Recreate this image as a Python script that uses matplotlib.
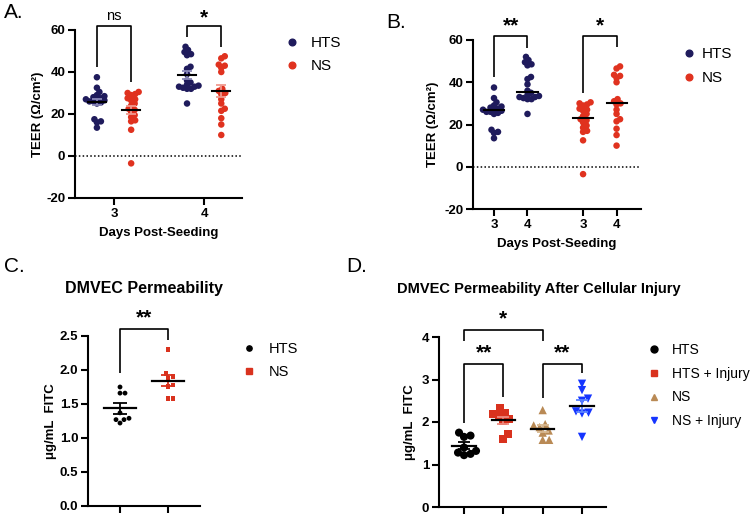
import numpy as np
import matplotlib
matplotlib.use("Agg")
import matplotlib.pyplot as plt
from matplotlib.lines import Line2D

plt.rcParams['font.family'] = ['Liberation Sans', 'DejaVu Sans']

# ---------------- data ----------------
hts_d3 = [37.5, 32.5, 30.5, 29, 28.5, 28, 27.5, 27, 27, 26.5, 26, 26, 25.5, 25, 17.5, 16.5, 16, 13.5]
ns_d3 = [30.5, 30, 29.5, 29, 27.5, 27, 26.5, 25, 24, 22.5, 22, 21, 19.5, 18.5, 17, 16.5, 12.5, -3.5]
hts_d4 = [52, 50.5, 49.5, 48.5, 48, 42.5, 41.5, 39, 36, 35, 34, 33.5, 33, 33, 32.5, 32, 32, 25]
ns_d4 = [47.5, 46.5, 43.5, 43, 42, 40, 32, 31, 30, 29.5, 27, 25, 22.5, 21.5, 18, 15, 10]
days = [3, 4]

c_groups = ["HTS", "NS"]
c_hts = [1.75, 1.66, 1.66, 1.37, 1.29, 1.27, 1.27, 1.22]
c_ns = [2.30, 1.95, 1.90, 1.88, 1.78, 1.76, 1.58, 1.58]

d_groups = ["HTS", "HTS + Injury", "NS", "NS + Injury"]
d_hts = [1.75, 1.68, 1.65, 1.40, 1.32, 1.28, 1.25, 1.22]
d_hts_inj = [2.33, 2.22, 2.18, 2.15, 2.08, 2.03, 1.72, 1.61]
d_ns = [2.28, 1.95, 1.92, 1.88, 1.80, 1.75, 1.58, 1.58]
d_ns_inj = [2.90, 2.75, 2.55, 2.50, 2.25, 2.22, 2.20, 1.65]

NAVY = '#1f1b5c'
RED = '#e0321f'
NAVY_L = '#8a88b8'
RED_L = '#f09a8f'
D_RED = '#d9321e'
TAN = '#b98a55'
BLUE = '#1535ff'
BLUE_L = '#5b83ff'
RED_L2 = '#ee8a80'
TAN_L = '#d8b890'

W, H = 752, 515
fig = plt.figure(figsize=(W / 100, H / 100), dpi=100)


def px_axes(l, t, r, b):
    return fig.add_axes([l / W, 1 - b / H, (r - l) / W, (b - t) / H])


def ftext(x, y, s, **kw):
    fig.text(x / W, 1 - y / H, s, **kw)


def style(ax):
    for s in ['top', 'right']:
        ax.spines[s].set_visible(False)
    for s in ['left', 'bottom']:
        ax.spines[s].set_linewidth(1.5)
    ax.tick_params(width=1.5, length=5, labelsize=9.5, pad=2)


def swarm(ax, xc, ys, d):
    ys = np.asarray(ys, float)
    pts = ax.transData.transform(np.column_stack([np.full(len(ys), xc), ys]))
    x0 = pts[0, 0]
    order = np.argsort(pts[:, 1])
    placed = []
    xs = np.zeros(len(ys))
    for i in order:
        y = pts[i, 1]
        best = None
        k = 0
        while best is None:
            for sgn in ([1] if k == 0 else [1, -1]):
                off = sgn * k * 0.5
                if all((x0 + off - px) ** 2 + (y - py) ** 2 >= d * d for px, py in placed):
                    best = off
                    break
            k += 1
        placed.append((x0 + best, y))
        xs[i] = x0 + best
    back = ax.transData.inverted().transform(np.column_stack([xs, pts[:, 1]]))
    return back[:, 0]


def sem(v):
    v = np.asarray(v, float)
    return v.std(ddof=1) / np.sqrt(len(v))


def bracket(ax, x1, x2, ytop, yl, yr, text, ty, fs=15, weight='bold'):
    ax.plot([x1, x1, x2, x2], [yl, ytop, ytop, yr], color='black', lw=1.2,
            clip_on=False, solid_capstyle='butt')
    ax.text((x1 + x2) / 2, ty, text, ha='center', va='center', fontsize=fs,
            fontweight=weight, clip_on=False)


def legend(handles, labels, x, y, spacing=0.5, pad=0.9, fs=10):
    fig.legend(handles, labels, loc='upper left', bbox_to_anchor=(x / W, 1 - y / H),
               frameon=False, fontsize=fs, handlelength=1.0, handletextpad=pad,
               labelspacing=spacing, borderpad=0, borderaxespad=0)


# ---------------- Panel A ----------------
axA = px_axes(75, 30, 242, 198)
style(axA)
axA.set_xlim(2.567, 4.42)
axA.set_ylim(-20, 60)
axA.set_yticks([-20, 0, 20, 40, 60], ['-20', '0', '20', '40', '60'], fontweight='bold')
axA.set_xticks(days, [str(d) for d in days], fontweight='bold')
axA.axhline(0, ls=(0, (1, 1.5)), color='black', lw=1.1, zorder=1)
off = 0.19
seriesA = [(days[0] - off, hts_d3, NAVY, NAVY_L), (days[0] + off, ns_d3, RED, RED_L),
           (days[1] - off, hts_d4, NAVY, NAVY_L), (days[1] + off, ns_d4, RED, RED_L)]
for xc, ys, col, lcol in seriesA:
    xs = swarm(axA, xc, ys, 4.0)
    axA.scatter(xs, ys, s=22, color=col, edgecolors='none', zorder=2)
    m = np.mean(ys)
    axA.errorbar([xc], [m], yerr=[sem(ys)], fmt='none', ecolor=lcol, elinewidth=1.3,
                 capsize=3.6, capthick=1.3, zorder=3)
    axA.plot([xc - 0.1, xc + 0.1], [m, m], color='black', lw=1.5, zorder=4)
bracket(axA, days[0] - off, days[0] + off, 61.9, 42.4, 35.2, 'ns', 66.5, fs=10.5, weight='normal')
bracket(axA, days[1] - off, days[1] + off, 61.9, 56.7, 52.0, '*', 66.0)
axA.set_ylabel('TEER (Ω/cm²)', fontsize=9.5, fontweight='bold')
axA.yaxis.set_label_coords(-0.185, 0.5)
axA.set_xlabel('Days Post-Seeding', fontsize=9.5, fontweight='bold', labelpad=5)
legend([Line2D([], [], ls='none', marker='o', ms=4.8, color=NAVY),
        Line2D([], [], ls='none', marker='o', ms=4.8, color=RED)], ['HTS', 'NS'], 284, 36,
       spacing=0.6, pad=0.75, fs=11)

# ---------------- Panel B ----------------
axB = px_axes(473, 40, 641, 209)
style(axB)
posB = [0, 1, 2.66, 3.66]
axB.set_xlim(-0.627, 4.39)
axB.set_ylim(-20, 60)
axB.set_yticks([-20, 0, 20, 40, 60], ['-20', '0', '20', '40', '60'], fontweight='bold')
axB.set_xticks(posB, [str(days[0]), str(days[1]), str(days[0]), str(days[1])], fontweight='bold')
axB.axhline(0, ls=(0, (1, 1.5)), color='black', lw=1.1, zorder=1)
seriesB = [(posB[0], hts_d3, NAVY), (posB[1], hts_d4, NAVY),
           (posB[2], ns_d3, RED), (posB[3], ns_d4, RED)]
for xc, ys, col in seriesB:
    xs = swarm(axB, xc, ys, 4.0)
    axB.scatter(xs, ys, s=22, color=col, edgecolors='none', zorder=2)
    md = np.median(ys)
    axB.plot([xc - 0.3, xc + 0.3], [md, md], color='black', lw=1.5, zorder=4)
bracket(axB, posB[0], posB[1], 61.9, 42.5, 56.0, '**', 66.5)
bracket(axB, posB[2], posB[3], 61.9, 35.0, 56.7, '*', 66.5)
axB.set_ylabel('TEER (Ω/cm²)', fontsize=9.5, fontweight='bold')
axB.yaxis.set_label_coords(-0.2, 0.5)
axB.set_xlabel('Days Post-Seeding', fontsize=9.5, fontweight='bold', labelpad=5)
legend([Line2D([], [], ls='none', marker='o', ms=4.8, color=NAVY),
        Line2D([], [], ls='none', marker='o', ms=4.8, color=RED)], ['HTS', 'NS'], 681, 47,
       spacing=0.65, pad=0.35, fs=11)

# ---------------- Panel C ----------------
axC = px_axes(88, 336, 200, 506)
style(axC)
axC.set_xlim(-0.667, 1.667)
axC.set_ylim(0, 2.5)
axC.set_yticks([0, 0.5, 1.0, 1.5, 2.0, 2.5], ['0.0', '0.5', '1.0', '1.5', '2.0', '2.5'],
               fontweight='bold')
axC.set_xticks([0, 1], ['', ''])
seriesC = [(0, c_hts, 'black', 'o', 12, 'black'), (1, c_ns, D_RED, 's', 12, D_RED)]
for xc, ys, col, mk, sz, ecol in seriesC:
    xs = swarm(axC, xc, ys, 5.0)
    axC.scatter(xs, ys, s=sz, color=col, marker=mk, edgecolors='none', zorder=2)
    m = np.mean(ys)
    axC.errorbar([xc], [m], yerr=[sem(ys)], fmt='none', ecolor=ecol, elinewidth=1.3,
                 capsize=5, capthick=1.3, zorder=3)
    axC.plot([xc - 0.34, xc + 0.34], [m, m], color='black', lw=1.6, zorder=4)
bracket(axC, 0, 1, 2.60, 1.96, 2.44, '**', 2.77)
axC.set_ylabel('μg/mL  FITC', fontsize=9.5, fontweight='bold')
axC.yaxis.set_label_coords(-0.28, 0.5)
ftext(144, 289, 'DMVEC Permeability', ha='center', va='center', fontsize=11.5, fontweight='bold')
legend([Line2D([], [], ls='none', marker='o', ms=3.8, color='black'),
        Line2D([], [], ls='none', marker='s', ms=3.8, color=D_RED)], c_groups, 242, 342,
       spacing=0.65, pad=0.85, fs=10.5)

# ---------------- Panel D ----------------
axD = px_axes(439, 337, 606, 507)
style(axD)
axD.set_xlim(-0.636, 3.61)
axD.set_ylim(0, 4)
axD.set_yticks([0, 1, 2, 3, 4], ['0', '1', '2', '3', '4'], fontweight='bold')
axD.set_xticks([0, 1, 2, 3], ['', '', '', ''])
seriesD = [(0, d_hts, 'black', 'o', 34, 'black'),
           (1, d_hts_inj, D_RED, 's', 32, RED_L2),
           (2, d_ns, TAN, '^', 36, TAN_L),
           (3, d_ns_inj, BLUE, 'v', 36, BLUE_L)]
for xc, ys, col, mk, sz, ecol in seriesD:
    xs = swarm(axD, xc, ys, 6.2)
    axD.scatter(xs, ys, s=sz, color=col, marker=mk, edgecolors='none', zorder=2)
    m = np.mean(ys)
    axD.errorbar([xc], [m], yerr=[sem(ys)], fmt='none', ecolor=ecol, elinewidth=1.3,
                 capsize=4.3, capthick=1.3, zorder=3)
    axD.plot([xc - 0.3, xc + 0.3], [m, m], color='black', lw=1.6, zorder=4)
bracket(axD, 0, 2, 4.165, 3.9, 3.9, '*', 4.42)
bracket(axD, 0, 1, 3.36, 1.97, 2.59, '**', 3.62)
bracket(axD, 2, 3, 3.36, 2.56, 3.15, '**', 3.62)
axD.set_ylabel('μg/mL  FITC', fontsize=9.5, fontweight='bold')
axD.yaxis.set_label_coords(-0.14, 0.5)
ftext(539, 289, 'DMVEC Permeability After Cellular Injury', ha='center', va='center',
      fontsize=10.5, fontweight='bold')
legend([Line2D([], [], ls='none', marker='o', ms=5, color='black'),
        Line2D([], [], ls='none', marker='s', ms=5, color=D_RED),
        Line2D([], [], ls='none', marker='^', ms=5, color=TAN),
        Line2D([], [], ls='none', marker='v', ms=5, color=BLUE)], d_groups, 647, 343,
       spacing=0.7, pad=0.8)

# ---------------- panel letters ----------------
ftext(4, 13, 'A.', ha='left', va='center', fontsize=15)
ftext(386, 22, 'B.', ha='left', va='center', fontsize=15)
ftext(4, 267, 'C.', ha='left', va='center', fontsize=15)
ftext(346, 267, 'D.', ha='left', va='center', fontsize=15)

fig.savefig('out.png', dpi=100)
